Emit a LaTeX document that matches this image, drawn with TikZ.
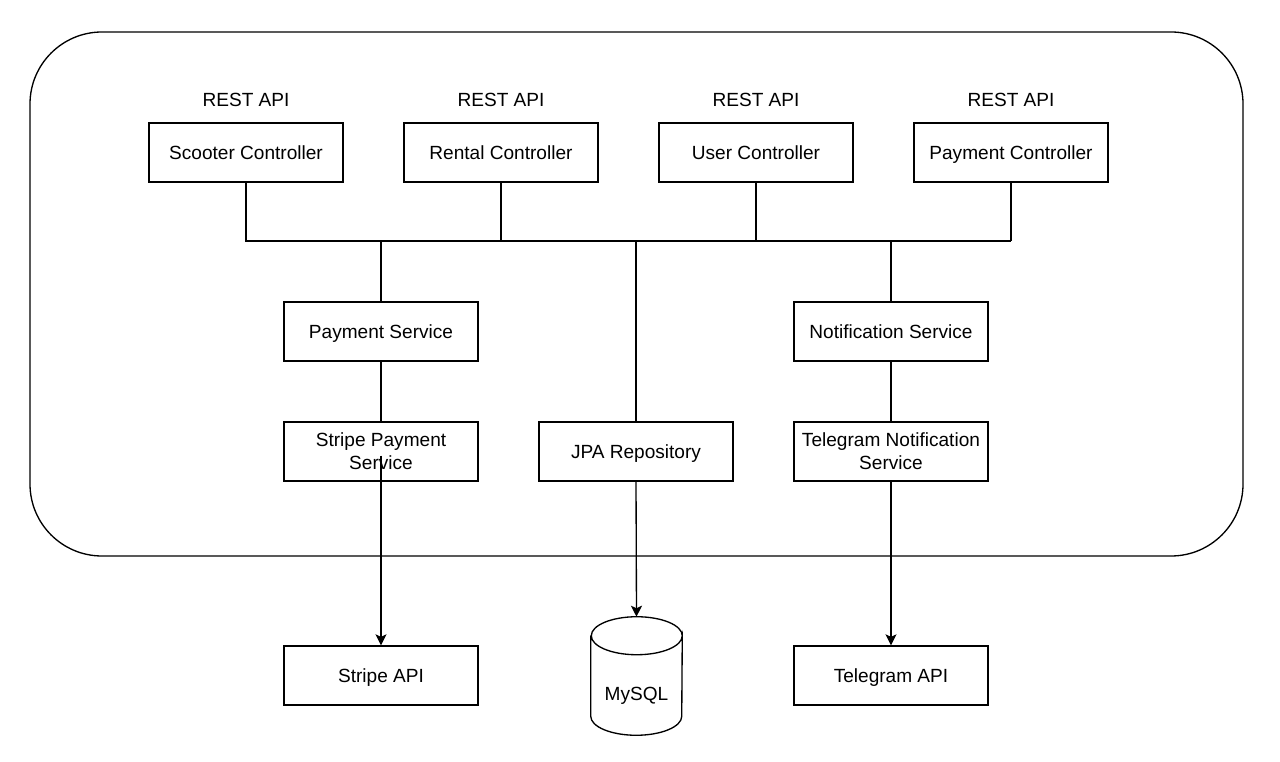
\documentclass[tikz,border=0pt]{standalone}
\usepackage{fontspec}
\setmainfont{Liberation Sans}
\usetikzlibrary{arrows.meta,calc}
\begin{document}
\begin{tikzpicture}[x=0.75pt,y=-0.75pt,
  every node/.style={font=\fontsize{14.3}{17.3}\selectfont, text=black},
  boxbase/.style={draw, line width=1pt, minimum width=194*0.75pt, minimum height=59*0.75pt, align=center, inner sep=0pt},
  box/.style={boxbase, text height=12.6pt, text depth=1.6pt},
  box2/.style={boxbase},
  lbl/.style={inner sep=0pt, text height=12.6pt, text depth=1.6pt},
  wire/.style={line width=1pt},
  arr/.style={line width=1pt, -{Stealth[length=11pt*0.75,width=11pt*0.75,inset=2.5pt*0.75]}}]
\useasboundingbox (0,0) rectangle (1280,762);
% outer container
\draw[line width=1pt, rounded corners=72*0.75pt] (30,32) rectangle (1243,556);
% controllers
\node[box] (sc) at (246,152.5) {Scooter Controller};
\node[box] (rc) at (501,152.5) {Rental Controller};
\node[box] (uc) at (756,152.5) {User Controller};
\node[box] (pc) at (1011,152.5) {Payment Controller};
\foreach \n in {sc,rc,uc,pc}
  \node[lbl] at ($(\n.north)+(0,-23.5)$) {REST API};
% bus
\coordinate (busL) at (246,241);
\coordinate (busR) at (1011,241);
\draw[wire] (sc.south) |- (busR);
\draw[wire] (pc.south) -- (busR);
\draw[wire] (rc.south) -- (rc.south |- busL);
\draw[wire] (uc.south) -- (uc.south |- busL);
% services
\node[box] (ps) at (381,331.5) {Payment Service};
\node[box] (ns) at (891,331.5) {Notification Service};
\node[box2] (sps) at (381,451.5) {Stripe Payment\\Service};
\node[box] (jpa) at (636,451.5) {JPA Repository};
\node[box2] (tns) at (891,451.5) {Telegram Notification\\Service};
\draw[wire] (ps.north |- busL) -- (ps.north);
\draw[wire] (ns.north |- busL) -- (ns.north);
\draw[wire] (jpa.north |- busL) -- (jpa.north);
\draw[wire] (ps.south) -- (sps.north);
\draw[wire] (ns.south) -- (tns.north);
% externals
\node[box] (sapi) at (381,675.5) {Stripe API};
\node[box] (tapi) at (891,675.5) {Telegram API};
\node[inner sep=0pt, minimum width=91*0.75pt, minimum height=118*0.75pt] (db) at (636.5,676) {};
\draw[line width=1pt]
  ($(db.north west)+(0,19)$) -- ($(db.south west)+(0,-19)$)
  arc[start angle=180,end angle=0,x radius=45.5,y radius=19]
  -- ($(db.north east)+(0,19)$)
  arc[start angle=0,end angle=180,x radius=45.5,y radius=19]
  arc[start angle=180,end angle=360,x radius=45.5,y radius=19];
\node[lbl] at ($(db.center)+(0,17)$) {MySQL};
% arrows
\draw[arr] ($(sps.center)+(0,4)$) -- (sapi.north);
\draw[arr] (jpa.south) -- (db.north);
\draw[arr] (tns.south) -- (tapi.north);
\end{tikzpicture}
\end{document}
